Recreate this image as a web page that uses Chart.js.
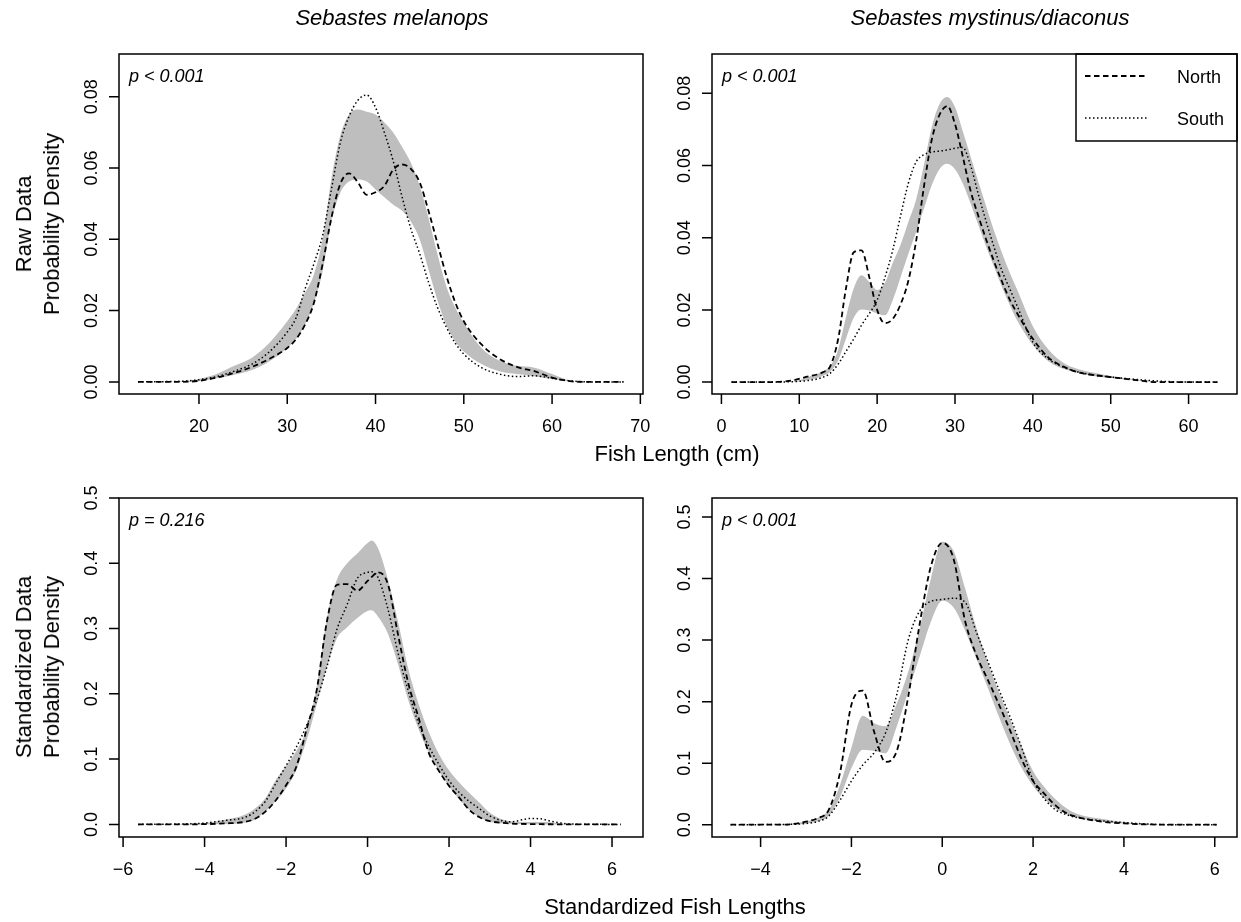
<!DOCTYPE html>
<html>
<head>
<meta charset="utf-8">
<title>Fish length densities</title>
<script src="https://cdn.jsdelivr.net/npm/chart.js"></script>
<style>
    body { margin: 0; background: #fff; font-family: "Liberation Sans", Arial, sans-serif; }
    #page { position: relative; width: 1241px; height: 922px; overflow: hidden; }
    #page canvas { position: absolute; left: 0; top: 0; }
    .lbl { position: absolute; transform: translate(-50%, -50%); white-space: nowrap; line-height: 1; color: #000; }
    .title { font-size: 22px; font-style: italic; }
    .axt { font-size: 22px; }
    .ylab { position: absolute; font-size: 22px; line-height: 28px; text-align: center; white-space: nowrap;
            transform: translate(-50%, -50%) rotate(-90deg); }
</style>
</head>
<body>
<div id="page">
    <canvas id="rawMel" width="1241" height="922"></canvas>
    <canvas id="rawMys" width="1241" height="922"></canvas>
    <canvas id="stdMel" width="1241" height="922"></canvas>
    <canvas id="stdMys" width="1241" height="922"></canvas>

    <div class="lbl title" style="left:392px; top:18px;">Sebastes melanops</div>
    <div class="lbl title" style="left:990px; top:18px;">Sebastes mystinus/diaconus</div>
    <div class="ylab" style="left:38px; top:224px;">Raw Data<br>Probability Density</div>
    <div class="ylab" style="left:38px; top:667px;">Standardized Data<br>Probability Density</div>
    <div class="lbl axt" style="left:677px; top:454px;">Fish Length (cm)</div>
    <div class="lbl axt" style="left:675px; top:907px;">Standardized Fish Lengths</div>
</div>

<script>
    // S. melanops, raw lengths (cm)
    const melX     = [13.1, 18, 20, 22, 24, 26, 28, 30, 31, 32, 33, 34, 35, 36, 37, 38, 39, 40, 41, 42, 43, 44, 45, 46, 47, 48, 49, 50, 52, 54, 56, 58, 60, 62, 64, 68.1];
    const melNorth = [0, 0, 0.0003, 0.0012, 0.0025, 0.0042, 0.0065, 0.0095, 0.012, 0.016, 0.022, 0.033, 0.046, 0.0555, 0.0585, 0.056, 0.0525, 0.0532, 0.055, 0.0595, 0.061, 0.0598, 0.056, 0.048, 0.039, 0.030, 0.0225, 0.017, 0.0105, 0.0065, 0.0042, 0.003, 0.0012, 0.0002, 0, 0];
    const melSouth = [0, 0.0002, 0.0006, 0.0015, 0.003, 0.005, 0.0085, 0.014, 0.018, 0.026, 0.033, 0.041, 0.054, 0.067, 0.0745, 0.079, 0.0805, 0.077, 0.07, 0.062, 0.052, 0.043, 0.036, 0.028, 0.021, 0.0155, 0.011, 0.0078, 0.004, 0.0022, 0.0015, 0.0017, 0.001, 0.0003, 0, 0];
    const melUpper = [0, 0.0002, 0.0008, 0.0022, 0.0045, 0.0068, 0.011, 0.017, 0.0205, 0.025, 0.030, 0.040, 0.057, 0.069, 0.075, 0.0764, 0.0758, 0.075, 0.0728, 0.07, 0.066, 0.0615, 0.055, 0.046, 0.036, 0.027, 0.021, 0.0165, 0.0095, 0.006, 0.0045, 0.004, 0.0022, 0.0004, 0, 0];
    const melLower = [0, 0, 0.0002, 0.001, 0.002, 0.0033, 0.0058, 0.0095, 0.012, 0.016, 0.022, 0.031, 0.045, 0.053, 0.0562, 0.0568, 0.0562, 0.054, 0.0518, 0.0497, 0.048, 0.045, 0.040, 0.0315, 0.023, 0.016, 0.0115, 0.0085, 0.005, 0.003, 0.0022, 0.0016, 0.0008, 0.0001, 0, 0];

    // S. mystinus/diaconus, raw lengths (cm)
    const mysX     = [1.3, 6, 9, 11, 13, 14, 15, 16, 17, 18, 19, 20, 21, 22, 23, 24, 25, 26, 27, 28, 29, 30, 31, 32, 33, 34, 35, 36, 37, 38, 40, 42, 44, 46, 48, 50, 53, 56, 60, 63.7];
    const mysNorth = [0, 0, 0.0004, 0.0015, 0.0027, 0.0045, 0.012, 0.026, 0.036, 0.0365, 0.029, 0.020, 0.0163, 0.0175, 0.0215, 0.028, 0.039, 0.054, 0.067, 0.074, 0.0765, 0.0715, 0.0625, 0.053, 0.046, 0.0395, 0.0335, 0.028, 0.023, 0.019, 0.012, 0.0068, 0.0042, 0.0026, 0.0019, 0.0014, 0.0006, 0, 0, 0];
    const mysSouth = [0, 0, 0.0001, 0.0004, 0.0013, 0.0025, 0.005, 0.0085, 0.012, 0.0158, 0.019, 0.0227, 0.029, 0.0365, 0.046, 0.055, 0.061, 0.063, 0.0637, 0.064, 0.0643, 0.0648, 0.065, 0.06, 0.052, 0.0445, 0.0375, 0.031, 0.026, 0.021, 0.011, 0.0064, 0.0041, 0.0027, 0.0019, 0.0014, 0.0008, 0.0003, 0, 0];
    const mysUpper = [0, 0, 0.0001, 0.0013, 0.003, 0.0045, 0.009, 0.018, 0.026, 0.0296, 0.0277, 0.0255, 0.0275, 0.033, 0.038, 0.0443, 0.0505, 0.060, 0.0705, 0.077, 0.079, 0.0762, 0.0695, 0.0625, 0.0555, 0.0487, 0.042, 0.036, 0.0305, 0.0255, 0.0155, 0.009, 0.0052, 0.0035, 0.0025, 0.0017, 0.0007, 0.0002, 0, 0];
    const mysLower = [0, 0, 0, 0.0005, 0.0017, 0.003, 0.006, 0.012, 0.0178, 0.0201, 0.0198, 0.019, 0.0185, 0.0227, 0.029, 0.0355, 0.0415, 0.048, 0.0545, 0.059, 0.0605, 0.059, 0.055, 0.0495, 0.0435, 0.0375, 0.032, 0.0265, 0.0215, 0.017, 0.0103, 0.0058, 0.0036, 0.0024, 0.0016, 0.0011, 0.0005, 0.0001, 0, 0];

    // S. melanops, standardized lengths
    const melStdX     = [-5.63, -4.5, -4, -3.5, -3, -2.75, -2.5, -2.25, -2, -1.75, -1.5, -1.25, -1, -0.75, -0.5, -0.25, 0, 0.1, 0.25, 0.5, 0.75, 1, 1.25, 1.5, 1.75, 2, 2.25, 2.5, 2.75, 3, 3.5, 4, 4.25, 4.5, 5, 6.21];
    const melStdNorth = [0, 0, 0.0004, 0.0015, 0.004, 0.009, 0.02, 0.037, 0.06, 0.088, 0.145, 0.205, 0.31, 0.367, 0.368, 0.358, 0.373, 0.379, 0.386, 0.368, 0.29, 0.216, 0.164, 0.11, 0.082, 0.059, 0.041, 0.022, 0.011, 0.005, 0.0015, 0.0005, 0.0003, 0.0002, 0, 0];
    const melStdSouth = [0, 0.0008, 0.002, 0.006, 0.011, 0.02, 0.036, 0.063, 0.09, 0.118, 0.151, 0.19, 0.241, 0.299, 0.337, 0.377, 0.386, 0.387, 0.379, 0.33, 0.262, 0.204, 0.155, 0.12, 0.092, 0.067, 0.049, 0.035, 0.024, 0.013, 0.004, 0.009, 0.0085, 0.005, 0.0005, 0];
    const melStdUpper = [0, 0.0005, 0.002, 0.007, 0.015, 0.025, 0.041, 0.068, 0.09, 0.112, 0.145, 0.21, 0.315, 0.375, 0.4, 0.415, 0.431, 0.435, 0.424, 0.375, 0.31, 0.238, 0.185, 0.142, 0.108, 0.083, 0.064, 0.048, 0.033, 0.018, 0.005, 0.0036, 0.0036, 0.003, 0.0003, 0];
    const melStdLower = [0, 0, 0, 0.0006, 0.003, 0.008, 0.02, 0.036, 0.055, 0.083, 0.128, 0.183, 0.24, 0.285, 0.302, 0.316, 0.327, 0.328, 0.319, 0.292, 0.245, 0.19, 0.146, 0.11, 0.082, 0.058, 0.038, 0.022, 0.011, 0.004, 0.001, 0.0002, 0, 0, 0, 0];

    // S. mystinus/diaconus, standardized lengths
    const mysStdX     = [-4.66, -3.5, -3, -2.75, -2.5, -2.25, -2, -1.75, -1.5, -1.25, -1, -0.75, -0.5, -0.25, 0, 0.25, 0.5, 0.75, 1, 1.25, 1.5, 1.75, 2, 2.25, 2.5, 2.75, 3, 3.5, 4, 4.5, 5, 6.04];
    const mysStdNorth = [0, 0, 0.005, 0.0105, 0.024, 0.085, 0.195, 0.218, 0.151, 0.102, 0.12, 0.208, 0.325, 0.42, 0.458, 0.432, 0.332, 0.276, 0.236, 0.195, 0.152, 0.106, 0.071, 0.05, 0.031, 0.018, 0.012, 0.005, 0.002, 0.0005, 0, 0];
    const mysStdSouth = [0, 0.0004, 0.002, 0.005, 0.014, 0.04, 0.071, 0.097, 0.117, 0.149, 0.212, 0.3, 0.347, 0.363, 0.366, 0.368, 0.362, 0.313, 0.266, 0.219, 0.174, 0.125, 0.072, 0.042, 0.024, 0.016, 0.011, 0.0065, 0.0035, 0.0012, 0, 0];
    const mysStdUpper = [0, 0.0005, 0.0054, 0.011, 0.024, 0.065, 0.125, 0.177, 0.165, 0.16, 0.197, 0.248, 0.318, 0.4, 0.46, 0.445, 0.385, 0.32, 0.264, 0.215, 0.17, 0.127, 0.087, 0.061, 0.041, 0.026, 0.017, 0.0095, 0.0043, 0.001, 0, 0];
    const mysStdLower = [0, 0, 0.0016, 0.005, 0.014, 0.045, 0.092, 0.122, 0.12, 0.116, 0.16, 0.216, 0.273, 0.33, 0.364, 0.353, 0.316, 0.27, 0.223, 0.175, 0.13, 0.092, 0.063, 0.042, 0.026, 0.017, 0.011, 0.005, 0.0015, 0, 0, 0];

    // axis ticks
    const melRawTicks = [20, 30, 40, 50, 60, 70];
    const mysRawTicks = [0, 10, 20, 30, 40, 50, 60];
    const rawDensTicks = [0, 0.02, 0.04, 0.06, 0.08];
    const melStdTicks = [-6, -4, -2, 0, 2, 4, 6];
    const mysStdTicks = [-4, -2, 0, 2, 4, 6];
    const stdDensTicks = [0, 0.1, 0.2, 0.3, 0.4, 0.5];

    const pMelRaw = 'p < 0.001';
    const pMysRaw = 'p < 0.001';
    const pMelStd = 'p = 0.216';
    const pMysStd = 'p < 0.001';

    const FONT = '"Liberation Sans", Arial, sans-serif';
    const BAND = '#bebebe';

    const num = v => String(v).replace('-', '\u2212');

    function pts(xs, ys) {
        return xs.map((x, i) => ({ x: x, y: ys[i] }));
    }

    // box, outward ticks, rotated y labels, p-value and optional legend
    const rAxes = {
        id: 'rAxes',
        afterDatasetsDraw(chart, args, o) {
            const { ctx, chartArea: a } = chart;
            const xs = chart.scales.x, ys = chart.scales.y;
            ctx.save();
            ctx.strokeStyle = '#000';
            ctx.fillStyle = '#000';
            ctx.lineWidth = 1.5;
            ctx.setLineDash([]);
            ctx.strokeRect(a.left, a.top, a.right - a.left, a.bottom - a.top);

            ctx.beginPath();
            o.xTicks.forEach(v => {
                const p = xs.getPixelForValue(v);
                ctx.moveTo(p, a.bottom); ctx.lineTo(p, a.bottom + 10);
            });
            o.yTicks.forEach(v => {
                const p = ys.getPixelForValue(v);
                ctx.moveTo(a.left, p); ctx.lineTo(a.left - 10, p);
            });
            ctx.stroke();

            ctx.font = '18px ' + FONT;
            ctx.textAlign = 'center';
            ctx.textBaseline = 'alphabetic';
            o.xTicks.forEach(v => ctx.fillText(num(v), xs.getPixelForValue(v), a.bottom + 38));
            o.yTicks.forEach(v => {
                ctx.save();
                ctx.translate(a.left - 22, ys.getPixelForValue(v));
                ctx.rotate(-Math.PI / 2);
                ctx.fillText(v.toFixed(o.digits), 0, 0);
                ctx.restore();
            });

            ctx.textAlign = 'left';
            ctx.font = 'italic 18px ' + FONT;
            ctx.fillText(o.pText, a.left + 10, a.top + 27.5);

            if (o.legend) {
                const lx = a.right - 161;
                ctx.lineWidth = 1.5;
                ctx.strokeRect(lx, a.top, a.right - lx, 87);
                ctx.font = '18px ' + FONT;
                [['North', [5.5, 3.5], 1.8, 22], ['South', [1.5, 2.5], 1.5, 64]].forEach(([name, dash, w, dy]) => {
                    ctx.save();
                    ctx.lineWidth = w;
                    ctx.setLineDash(dash);
                    ctx.beginPath();
                    ctx.moveTo(lx + 9, a.top + dy);
                    ctx.lineTo(lx + 72, a.top + dy);
                    ctx.stroke();
                    ctx.restore();
                    ctx.fillText(name, lx + 101, a.top + dy + 6.5);
                });
            }
            ctx.restore();
        }
    };

    function makePanel(id, c) {
        new Chart(document.getElementById(id), {
            type: 'line',
            data: {
                datasets: [
                    { label: 'lower', data: pts(c.x, c.lower), borderColor: 'rgba(0,0,0,0)', borderWidth: 0,
                      fill: false, order: 3 },
                    { label: 'upper', data: pts(c.x, c.upper), borderColor: 'rgba(0,0,0,0)', borderWidth: 0,
                      backgroundColor: BAND, fill: '-1', order: 2 },
                    { label: 'North', data: pts(c.x, c.north), borderColor: '#000', borderWidth: 1.8,
                      borderDash: [5.5, 3.5], fill: false, order: 1 },
                    { label: 'South', data: pts(c.x, c.south), borderColor: '#000', borderWidth: 1.5,
                      borderDash: [1.5, 2.5], fill: false, order: 0 }
                ]
            },
            options: {
                responsive: false,
                animation: false,
                devicePixelRatio: 1,
                layout: { padding: c.pad },
                elements: {
                    point: { radius: 0, hoverRadius: 0 },
                    line: { cubicInterpolationMode: 'monotone' }
                },
                scales: {
                    x: { type: 'linear', min: c.xMin, max: c.xMax, display: false },
                    y: { type: 'linear', min: c.yMin, max: c.yMax, display: false }
                },
                plugins: {
                    legend: { display: false },
                    tooltip: { enabled: false },
                    rAxes: { xTicks: c.xTicks, yTicks: c.yTicks, digits: c.digits, pText: c.p, legend: !!c.legend }
                }
            },
            plugins: [rAxes]
        });
    }

    makePanel('rawMel', {
        x: melX, north: melNorth, south: melSouth, upper: melUpper, lower: melLower,
        xMin: 10.94, xMax: 70.3, yMin: -0.0034, yMax: 0.092,
        xTicks: melRawTicks, yTicks: rawDensTicks, digits: 2, p: pMelRaw,
        pad: { left: 119, top: 54, right: 598, bottom: 528 }
    });
    makePanel('rawMys', {
        x: mysX, north: mysNorth, south: mysSouth, upper: mysUpper, lower: mysLower,
        xMin: -1.21, xMax: 66.22, yMin: -0.0033, yMax: 0.0909,
        xTicks: mysRawTicks, yTicks: rawDensTicks, digits: 2, p: pMysRaw, legend: true,
        pad: { left: 712, top: 54, right: 4, bottom: 528 }
    });
    makePanel('stdMel', {
        x: melStdX, north: melStdNorth, south: melStdSouth, upper: melStdUpper, lower: melStdLower,
        xMin: -6.1, xMax: 6.76, yMin: -0.0193, yMax: 0.5,
        xTicks: melStdTicks, yTicks: stdDensTicks, digits: 1, p: pMelStd,
        pad: { left: 119, top: 498, right: 598, bottom: 85 }
    });
    makePanel('stdMys', {
        x: mysStdX, north: mysStdNorth, south: mysStdSouth, upper: mysStdUpper, lower: mysStdLower,
        xMin: -5.07, xMax: 6.49, yMin: -0.02, yMax: 0.531,
        xTicks: mysStdTicks, yTicks: stdDensTicks, digits: 1, p: pMysStd,
        pad: { left: 712, top: 498, right: 4, bottom: 85 }
    });
</script>
</body>
</html>
